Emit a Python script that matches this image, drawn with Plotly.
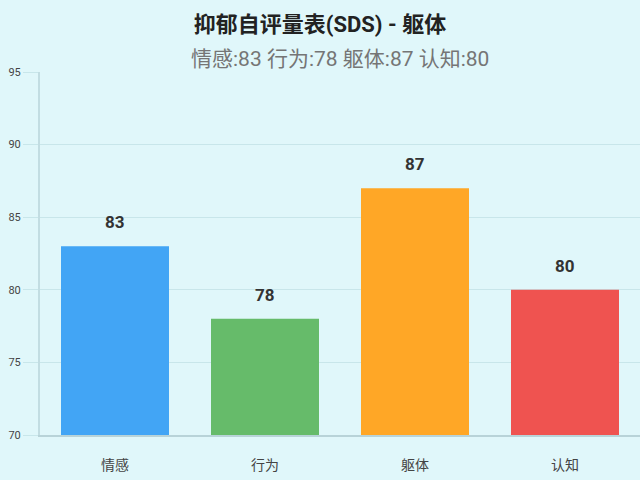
import plotly.graph_objects as go

categories = ["情感", "行为", "躯体", "认知"]
scores = [83, 78, 87, 80]
bar_colors = ["#42A5F5", "#66BB6A", "#FFA726", "#EF5350"]
y_ticks = [70, 75, 80, 85, 90, 95]

font_family = "Roboto, Noto Sans CJK SC, sans-serif"
bg = "#E0F7FA"
grid = "#C8E6EA"

subtitle = " ".join(f"{c}:{v}" for c, v in zip(categories, scores))

fig = go.Figure()
fig.add_trace(
    go.Bar(
        x=categories,
        y=scores,
        marker=dict(color=bar_colors, line=dict(width=0)),
        hoverinfo="skip",
    )
)

# value labels above each bar
for c, v in zip(categories, scores):
    fig.add_annotation(
        x=c, y=v, text=f"<b>{v}</b>", showarrow=False,
        yanchor="bottom", yshift=12,
        font=dict(size=17, color="#333333", family=font_family),
    )

fig.add_annotation(
    x=0.5, y=1.0, xref="paper", yref="paper", yanchor="bottom", yshift=-1,
    text=subtitle, showarrow=False,
    font=dict(size=21, color="#757575", family=font_family),
)

fig.update_layout(
    width=640,
    height=480,
    title=dict(
        text="<b>抑郁自评量表(SDS) - 躯体</b>",
        x=0.5, xanchor="center", y=0.95, yanchor="middle",
        font=dict(size=22, color="#222222", family=font_family),
    ),
    paper_bgcolor=bg,
    plot_bgcolor=bg,
    margin=dict(l=40, r=0, t=72, b=45),
    bargap=0.28,
    showlegend=False,
    font=dict(family=font_family, color="#444444"),
)
fig.update_xaxes(
    showline=True, linecolor="#B8D3D8", linewidth=2,
    showgrid=False, ticks="", ticklabelstandoff=16,
    tickfont=dict(size=14, color="#444444"),
)
fig.update_yaxes(
    range=[70, 95], tickvals=y_ticks,
    showline=True, linecolor="#C2DDE2", linewidth=2,
    showgrid=True, gridcolor=grid, gridwidth=1,
    ticks="outside", ticklen=15, tickcolor=grid,
    tickfont=dict(size=11, color="#444444"),
    zeroline=False,
)

fig.write_html(
    "out.html",
    config={"displayModeBar": False},
    post_script="document.body.style.margin='0';document.body.style.background='" + bg + "';",
)
